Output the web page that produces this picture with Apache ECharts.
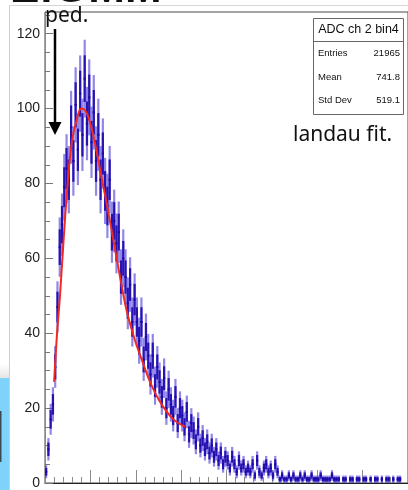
<!DOCTYPE html>
<html>
<head>
<meta charset="utf-8">
<script src="https://cdn.jsdelivr.net/npm/echarts@6/dist/echarts.min.js"></script>
<style>
html, body { margin: 0; padding: 0; background: #ffffff; }
#c { width: 408px; height: 490px; }
</style>
</head>
<body>
<div id="c"></div>
<script>
// ADC spectrum, channel 2 / bin4: bin width in ADC counts and per-bin entries
const binWidth = 5;
const counts = [
  3, 9, 17, 21, 31, 47, 63, 69, 79, 84,
  81, 95, 86, 101, 89, 104, 93, 108, 96, 103,
  91, 99, 86, 93, 81, 88, 78, 74, 81, 67,
  70, 64, 67, 55, 60, 55, 48, 53, 43, 49,
  43, 38, 43, 33, 39, 34, 29, 34, 26, 31,
  27, 23, 28, 20, 25, 21, 18, 23, 16, 20,
  18, 15, 19, 13, 16, 14, 11, 15, 10, 12,
  9, 11, 8, 10, 7, 9, 6, 8, 5, 7,
  6, 4, 7, 5, 3, 6, 4, 5, 3, 4,
  3, 5, 2, 6, 3, 2, 4, 5, 3, 4,
  2, 5, 3, 1, 2, 1, 1, 2, 1, 2,
  1, 1, 2, 1, 2, 1, 1, 2, 1, 1,
  1, 2, 1, 1, 1, 1, 2, 1, 1, 1,
  0, 1, 1, 0, 1, 1, 0, 1, 1, 0,
  1, 1, 0, 1, 0, 1, 1, 0, 1, 0,
  1, 1, 0, 1, 0, 1, 1, 0
];

// Landau fit curve, sampled in ADC counts
const fitX = [20, 26, 33, 41, 50, 59, 70, 80, 91, 102, 113, 124, 137, 152, 167, 180, 196, 213, 235, 257, 283, 309];
const fitY = [27, 39, 50, 65, 80, 91, 97, 100, 99, 95, 89, 82, 74, 64, 54, 46, 39, 33, 26, 21, 17, 15];

// Axis labels
const yLabels = [0, 20, 40, 60, 80, 100, 120];

// Statistics box
const statTitle = 'ADC ch 2 bin4';
const statNames = ['Entries', 'Mean', 'Std Dev'];
const statValues = ['21965', '741.8', '519.1'];

const histData = counts.map((c, i) => [(i + 0.5) * binWidth, c]);
const fitData = fitX.map((x, i) => [x, fitY[i]]);

// one bin: statistical error bar, darker core around the content, and the bin-width marker
function renderBin(params, api) {
  const x = api.value(0);
  const v = api.value(1);
  if (!(v > 0)) return null;
  const e = Math.sqrt(v);
  const mid = api.coord([x, v]);
  const top = api.coord([x, v + e])[1];
  const bot = api.coord([x, Math.max(v - e, 0)])[1];
  const cTop = api.coord([x, v + 0.6 * e])[1];
  const cBot = api.coord([x, Math.max(v - 0.6 * e, 0)])[1];
  const l = api.coord([x - binWidth / 2, v])[0];
  const r = api.coord([x + binWidth / 2, v])[0];
  return {
    type: 'group',
    children: [
      { type: 'rect', shape: { x: mid[0] - 1.1, y: top, width: 2.2, height: bot - top },
        style: { fill: 'rgba(70,55,215,0.6)' } },
      { type: 'rect', shape: { x: mid[0] - 1.1, y: cTop, width: 2.2, height: cBot - cTop },
        style: { fill: '#2812b2' } },
      { type: 'rect', shape: { x: l, y: mid[1] - 1, width: r - l, height: 2 },
        style: { fill: '#1c08a8' } }
    ]
  };
}

const chart = echarts.init(document.getElementById('c'), null, { renderer: 'canvas' });

const statChildren = [
  { type: 'rect', shape: { x: 313.5, y: 18.5, width: 90, height: 96 },
    style: { fill: '#ffffff', stroke: '#666666', lineWidth: 1 } },
  { type: 'line', shape: { x1: 313.5, y1: 41.5, x2: 403.5, y2: 41.5 },
    style: { stroke: '#666666', lineWidth: 1 } },
  { type: 'text', style: { text: statTitle, x: 358.5, y: 30, textAlign: 'center', textVerticalAlign: 'middle',
    font: '12.5px "Liberation Sans", Arial, sans-serif', fill: '#111111' } }
];
const rowY = [53, 77, 100];
statNames.forEach((n, i) => {
  statChildren.push({ type: 'text', style: { text: n, x: 318, y: rowY[i], textAlign: 'left', textVerticalAlign: 'middle',
    font: '9.5px "Liberation Sans", Arial, sans-serif', fill: '#111111' } });
  statChildren.push({ type: 'text', style: { text: statValues[i], x: 400, y: rowY[i], textAlign: 'right', textVerticalAlign: 'middle',
    font: '9.5px "Liberation Sans", Arial, sans-serif', fill: '#111111' } });
});

const option = {
  animation: false,
  backgroundColor: '#ffffff',
  grid: { left: 45, top: 12, right: -5, bottom: 4, show: true, borderColor: '#4a4a4a', borderWidth: 1 },
  xAxis: [
    { type: 'value', min: 0, max: 800, interval: 100,
      axisLine: { lineStyle: { color: '#222222', width: 1 } },
      axisTick: { inside: true, length: 13, lineStyle: { color: '#8a8a8a' } },
      axisLabel: { show: false }, splitLine: { show: false } },
    { type: 'value', min: 0, max: 800, interval: 20, position: 'bottom',
      axisLine: { show: false },
      axisTick: { inside: true, length: 6, lineStyle: { color: '#8a8a8a' } },
      axisLabel: { show: false }, splitLine: { show: false } }
  ],
  yAxis: [
    { type: 'value', min: 0, max: 125.8, interval: 20,
      axisLine: { lineStyle: { color: '#8a8a8a', width: 1 } },
      axisTick: { inside: true, length: 8, lineStyle: { color: '#777777' } },
      axisLabel: { margin: 5, fontSize: 14, color: '#222222', fontFamily: '"Liberation Sans", Arial, sans-serif',
        showMaxLabel: false, formatter: v => (yLabels.indexOf(v) >= 0 ? String(v) : '') },
      splitLine: { show: false } },
    { type: 'value', min: 0, max: 125.8, interval: 5, position: 'left',
      axisLine: { show: false },
      axisTick: { inside: true, length: 5, lineStyle: { color: '#777777' } },
      axisLabel: { show: false }, splitLine: { show: false } }
  ],
  series: [
    { type: 'custom', name: 'ADC', xAxisIndex: 0, yAxisIndex: 0, renderItem: renderBin, data: histData, z: 2 },
    { type: 'line', name: 'landau', xAxisIndex: 0, yAxisIndex: 0, data: fitData, smooth: 0.4,
      showSymbol: false, lineStyle: { color: '#f02a20', width: 2 }, z: 3 }
  ],
  graphic: [
    // slide title, mostly above the visible area
    { type: 'text', z: 10, style: { text: 'EfGMM', x: 10, y: 12, textAlign: 'left', textVerticalAlign: 'bottom',
      font: 'bold 44px "Liberation Sans", Arial, sans-serif', fill: '#111111' } },
    // window edges
    { type: 'line', z: 10, shape: { x1: 9.5, y1: 5.5, x2: 408, y2: 5.5 }, style: { stroke: '#d6d6d6', lineWidth: 1 } },
    { type: 'line', z: 10, shape: { x1: 9.5, y1: 5.5, x2: 9.5, y2: 490 }, style: { stroke: '#cfcfcf', lineWidth: 1 } },
    { type: 'rect', z: 10, shape: { x: 0, y: 364, width: 9, height: 14 },
      style: { fill: new echarts.graphic.LinearGradient(0, 0, 0, 1, [{ offset: 0, color: '#ffffff' }, { offset: 1, color: '#e4e4e4' }]) } },
    { type: 'rect', z: 10, shape: { x: 0, y: 378, width: 9, height: 112 }, style: { fill: '#7fd3fa' } },
    { type: 'rect', z: 11, shape: { x: 0, y: 411, width: 1.5, height: 51 }, style: { fill: '#3a4a55' } },
    // pedestal marker
    { type: 'text', z: 10, style: { text: 'ped.', x: 45, y: 27, textAlign: 'left', textVerticalAlign: 'bottom',
      font: '21px "Noto Sans", sans-serif', fill: '#111111' } },
    { type: 'line', z: 10, shape: { x1: 55, y1: 29, x2: 55, y2: 124 }, style: { stroke: '#000000', lineWidth: 2.5 } },
    { type: 'polygon', z: 10, shape: { points: [[48.5, 122], [61.5, 122], [55, 135]] }, style: { fill: '#000000' } },
    // fit annotation
    { type: 'text', z: 10, style: { text: 'landau fit.', x: 293, y: 146, textAlign: 'left', textVerticalAlign: 'bottom',
      font: '21px "Noto Sans", sans-serif', fill: '#111111' } },
    { type: 'group', z: 10, children: statChildren }
  ]
};

chart.setOption(option);
</script>
</body>
</html>
